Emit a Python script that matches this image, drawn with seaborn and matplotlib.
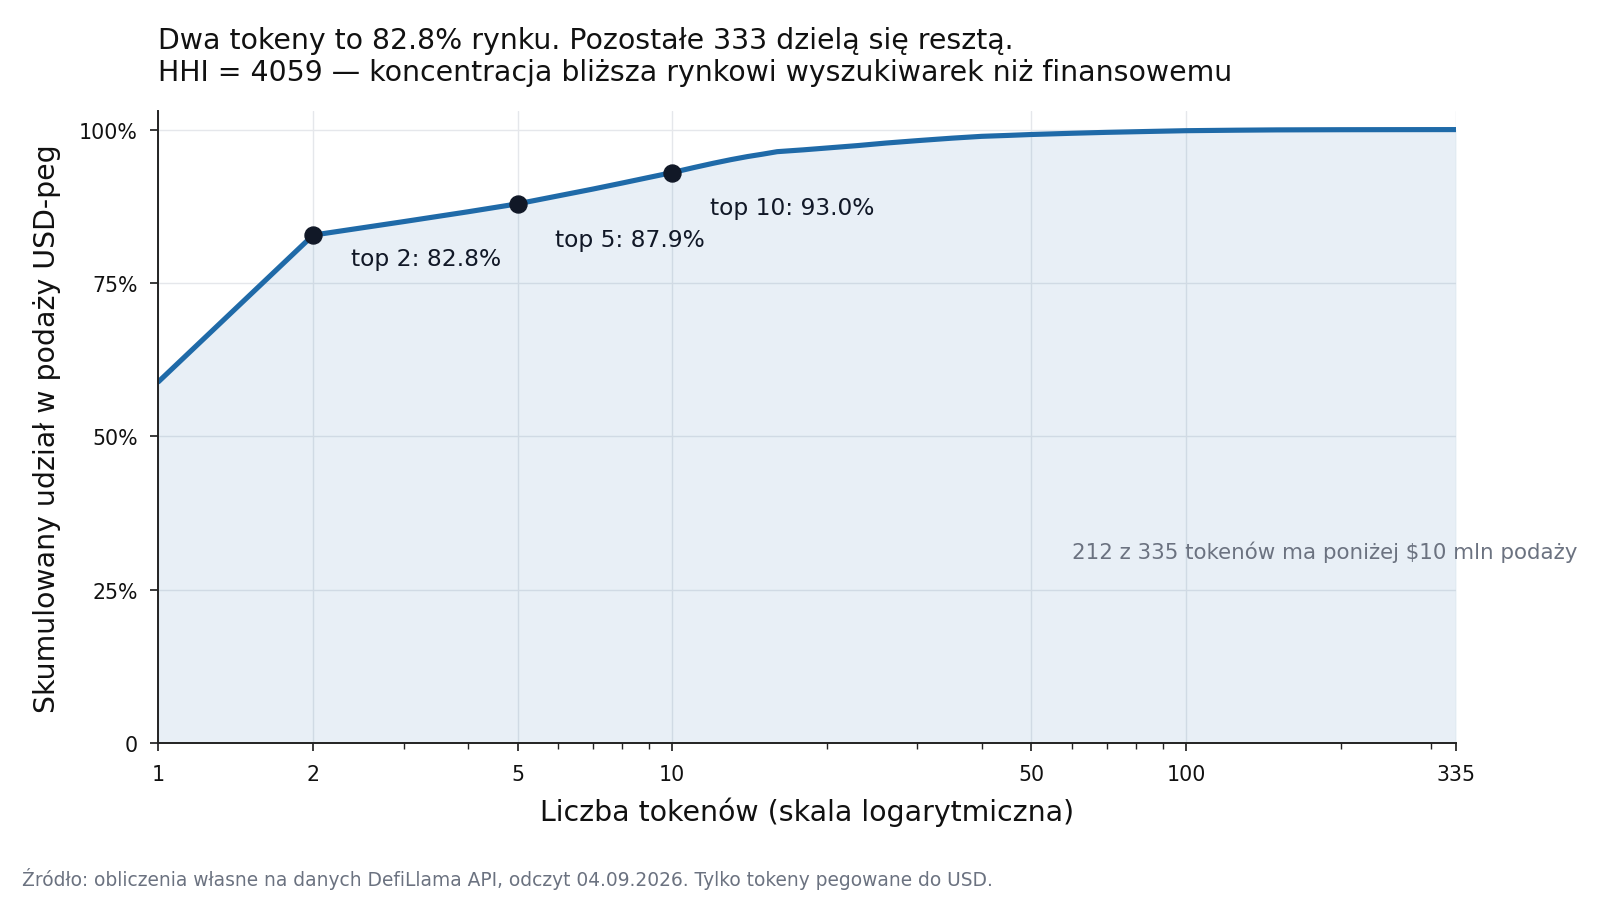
import numpy as np
import pandas as pd
import seaborn as sns
import matplotlib.pyplot as plt
from matplotlib.ticker import FixedLocator, FuncFormatter, NullFormatter, LogLocator

# cumulative share of USD-pegged supply by token rank
ranks = [1, 2, 3, 4, 5, 6, 7, 8, 9, 10, 11, 12, 13, 14, 15, 16, 18, 20, 23, 26,
         30, 35, 40, 45, 50, 60, 70, 85, 100, 125, 150, 200, 250, 335]
cum_share = [58.9, 82.8, 85.0, 86.6, 87.9, 89.2, 90.3, 91.3, 92.2, 93.0, 93.8, 94.5,
             95.1, 95.6, 96.0, 96.4, 96.7, 97.0, 97.4, 97.8, 98.2, 98.6, 98.9,
             99.05, 99.2, 99.4, 99.55, 99.7, 99.82, 99.9, 99.95, 99.98, 99.99, 100.0]

marked_ranks = [2, 5, 10]
marked_share = [82.8, 87.9, 93.0]
marked_labels = ["top 2: 82.8%", "top 5: 87.9%", "top 10: 93.0%"]

x_ticks = [1, 2, 5, 10, 50, 100, 335]
y_ticks = [0, 25, 50, 75, 100]

title = ("Dwa tokeny to 82.8% rynku. Pozostałe 333 dzielą się resztą.\n"
         "HHI = 4059 — koncentracja bliższa rynkowi wyszukiwarek niż finansowemu")
note = "212 z 335 tokenów ma poniżej $10 mln podaży"
source = "Źródło: obliczenia własne na danych DefiLlama API, odczyt 04.09.2026. Tylko tokeny pegowane do USD."

df = pd.DataFrame({"rank": ranks, "share": cum_share})
pts = pd.DataFrame({"rank": marked_ranks, "share": marked_share})

sns.set_theme(style="ticks")
plt.rcParams['font.family'] = ['DejaVu Sans']

line_c = "#1f6aa8"
dark = "#111827"

fig = plt.figure(figsize=(16, 9.12), dpi=100)
ax = fig.add_axes([0.099, 0.184, 0.811, 0.693])

ax.fill_between(df["rank"], 0, df["share"], color=line_c, alpha=0.1, lw=0)
sns.lineplot(data=df, x="rank", y="share", ax=ax, color=line_c, lw=3.7)
sns.scatterplot(data=pts, x="rank", y="share", ax=ax, color=dark, s=150,
                edgecolor=dark, zorder=5)

offsets = [(27, -17), (27, -25.5), (27, -25.5)]
for r, s, lab, off in zip(marked_ranks, marked_share, marked_labels, offsets):
    ax.annotate(lab, (r, s), xytext=off, textcoords="offset points",
                ha="left", va="center", fontsize=16.8, color=dark)

ax.text(60, 31.2, note, ha="left", va="center", fontsize=15.4, color="#6b7280")

ax.set_xscale("log")
ax.set_xlim(1, 335)
ax.set_ylim(0, 103)
ax.xaxis.set_major_locator(FixedLocator(x_ticks))
ax.xaxis.set_major_formatter(FuncFormatter(lambda v, p: f"{int(round(v))}"))
ax.xaxis.set_minor_locator(LogLocator(base=10, subs=np.arange(2, 10)))
ax.xaxis.set_minor_formatter(NullFormatter())
ax.set_yticks(y_ticks)
ax.yaxis.set_major_formatter(FuncFormatter(lambda v, p: "0" if v == 0 else f"{int(v)}%"))

ax.grid(True, which="major", color="#e5e7eb", lw=1)
ax.tick_params(axis="both", which="major", labelsize=14.8, length=6, pad=9,
               color="#222", labelcolor="#111")
ax.tick_params(axis="x", which="minor", length=4, color="#222")
for side in ["top", "right"]:
    ax.spines[side].set_visible(False)
for side in ["left", "bottom"]:
    ax.spines[side].set_color("#222")
    ax.spines[side].set_linewidth(1.4)

ax.set_xlabel("Liczba tokenów (skala logarytmiczna)", fontsize=20.4, color="#111")
ax.set_ylabel("Skumulowany udział w podaży USD-peg", fontsize=20.4, color="#111")
ax.xaxis.set_label_coords(0.5, -0.085)
ax.yaxis.set_label_coords(-0.075, 0.5)

fig.text(0.099, 1 - 27 / 912, title, ha="left", va="top", fontsize=20.4,
         color="#111", linespacing=1.2)
fig.text(0.014, 1 - 879 / 912, source, ha="left", va="center", fontsize=13.4,
         color="#6b7280")

fig.savefig("out.png", dpi=100)
